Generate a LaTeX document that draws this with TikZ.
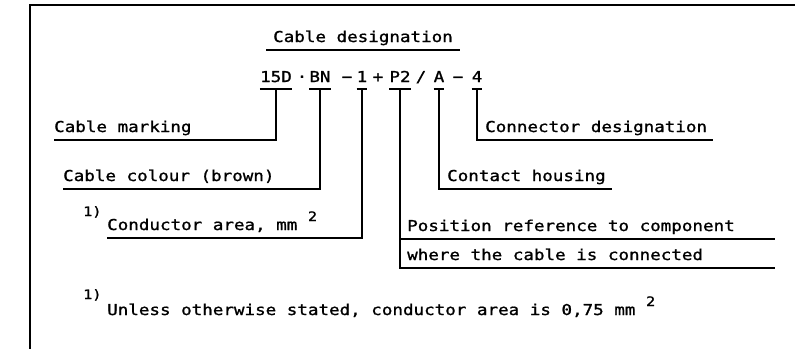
\documentclass[tikz,border=0pt]{standalone}
\usepackage{fontspec}
\newfontfamily\pf[FakeStretch=1.17,FakeBold=1.2]{DejaVu Sans Mono}
\usetikzlibrary{calc}
\newcommand{\supr}[1]{\raisebox{9pt}{\fontsize{13}{13}\selectfont #1}}
\begin{document}
\begin{tikzpicture}[x=1pt,y=-1pt,
  every node/.style={font=\pf\fontsize{15}{15}\selectfont, text depth=0pt},
  tok/.style={anchor=base, inner xsep=0pt, inner ysep=7pt},
  lbl/.style={anchor=base west, inner xsep=0pt, inner ysep=8pt},
  sym/.style={anchor=base, inner sep=0pt},
  fn/.style={anchor=base west, inner sep=0pt, font=\pf\fontsize{13}{13}\selectfont},
  ln/.style={line width=1.8pt}]
\useasboundingbox (0,0) rectangle (795,348);
% frame
\coordinate (ftr) at (800,5);
\coordinate (ftl) at (30,5);
\coordinate (fbl) at (30,352);
\draw[line width=2pt] (ftr) -- (ftl) -- (fbl);
% title
\node[anchor=base west, inner xsep=7pt, inner ysep=8pt] (title) at (266,42) {Cable designation};
\draw[ln] (title.south west) -- (title.south east);
% code tokens
\node[tok] (t15) at (276,82) {15D};
\node[sym] (sdot) at (302,82) {·};
\node[tok] (tBN) at (320,82) {BN};
\node[sym] (sm1) at (347,82) {−};
\node[tok] (t1) at (362,82) {1};
\node[sym] (spl) at (378,82) {+};
\node[tok] (tP2) at (400,82) {P2};
\node[sym] (ssl) at (421,82) {/};
\node[tok] (tA) at (439,82) {A};
\node[sym] (sm2) at (458,82) {−};
\node[tok] (t4) at (477,82) {4};
\foreach \t in {t15,tBN,t1,tP2,tA,t4}{\draw[ln] (\t.south west) -- (\t.south east);}
% labels
\node[lbl] (lmark) at (54,132) {Cable marking};
\node[lbl] (lcol) at (63,181) {Cable colour (brown)};
\node[fn] (f1) at (83,216) {1)};
\node[lbl] (lcond) at (107,230) {Conductor area, mm \supr{2}};
\node[lbl] (lpos) at (407,231) {Position reference to component};
\node[lbl] (lwhere) at (407,260) {where the cable is connected};
\node[lbl] (lhous) at (447,181) {Contact housing};
\node[lbl] (lconn) at (485,132) {Connector designation};
\coordinate (pend) at (775,0);
\coordinate (hend) at (612,0);
\coordinate (cend) at (713,0);
% connectors
\draw[ln] (t15.south) |- (lmark.south west);
\draw[ln] (tBN.south) |- (lcol.south west);
\draw[ln] (t1.south) |- (lcond.south west);
\draw[ln] (tP2.south) |- (lwhere.south -| pend);
\draw[ln] (tP2.south |- lpos.south) -- (lpos.south -| pend);
\draw[ln] (tA.south) |- (lhous.south -| hend);
\draw[ln] (t4.south) |- (lconn.south -| cend);
% footnote
\node[fn] (f2) at (83,299) {1)};
\node[anchor=base west, inner sep=0pt] (fnote) at (107,315) {Unless otherwise stated, conductor area is 0,75 mm \supr{2}};
\end{tikzpicture}
\end{document}
